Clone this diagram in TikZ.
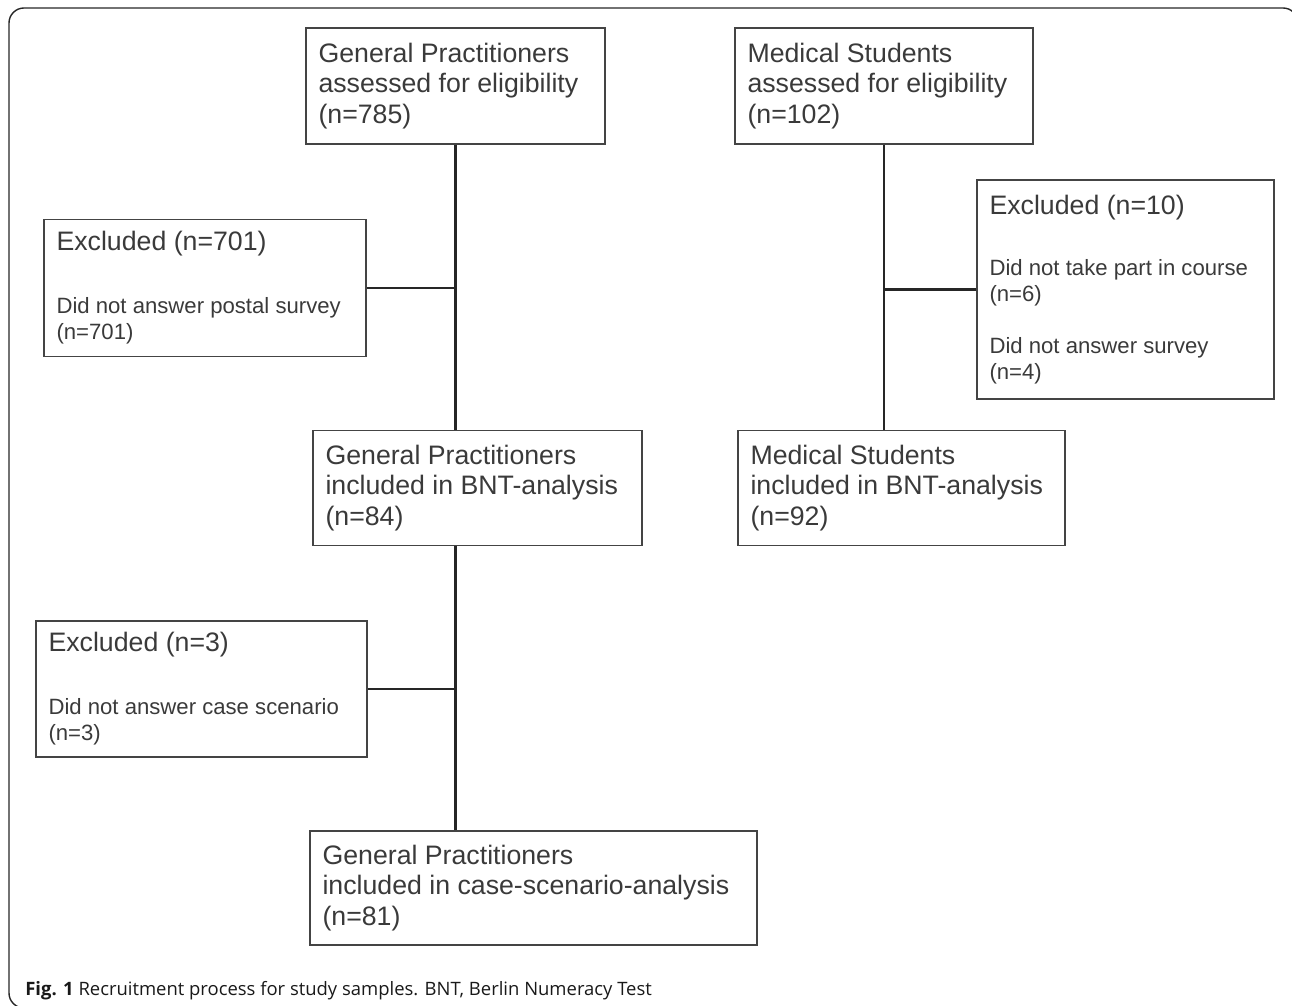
\documentclass[tikz,border=0pt]{standalone}
\usepackage{fontspec}
\usepackage{tikz}
\usepackage{xcolor}
\setmainfont{Liberation Sans}
\newfontfamily\capfamily{Open Sans}
\definecolor{boxgray}{HTML}{444444}
\definecolor{textgray}{HTML}{3A3A3A}
\newcommand{\mainsize}{\fontsize{15.2}{17.3}\selectfont}
\newcommand{\notesize}{\fontsize{12.6}{14.8}\selectfont}
\tikzset{
    flow-box/.style = {draw=boxgray, line width=1.1pt, rectangle, align=flush left, inner xsep=0.25cm, inner ysep=0pt, font=\mainsize, text=textgray},
    flow-link/.style = {draw=black!85, line width=1.2pt},
    frame-line/.style = {draw=black!85, line width=0.8pt, rounded corners=0.3cm},
}

\begin{document}
\begin{tikzpicture}[x=0.02cm, y=-0.02cm]
\useasboundingbox (0,0) rectangle (1292,1006);
\draw[frame-line] (24,1008) -- (9,1008) -- (9,8) -- (1298,8) -- (1298,40);

\node[flow-box, text width=5.48cm, minimum height=2.32cm] (gp-all) at (455.5,86) {General Practitioners\\assessed for eligibility\\(n=785)};
\node[flow-box, text width=5.46cm, minimum height=2.32cm] (ms-all) at (884,86) {Medical Students\\assessed for eligibility\\(n=102)};
\node[flow-box, text width=5.94cm, minimum height=2.74cm] (gp-excl) at (205,288) {Excluded (n=701)\\[21pt]\notesize Did not answer postal survey\\(n=701)\par};
\node[flow-box, text width=5.44cm, minimum height=4.38cm] (ms-excl) at (1125.5,289.5) {Excluded (n=10)\\[20pt]\notesize Did not take part in course\\(n=6)\\[15pt]Did not answer survey\\(n=4)\par};
\node[flow-box, text width=6.08cm, minimum height=2.3cm] (gp-bnt) at (477.5,488) {General Practitioners\\included in BNT-analysis\\(n=84)};
\node[flow-box, text width=6.04cm, minimum height=2.3cm] (ms-bnt) at (901.5,488) {Medical Students\\included in BNT-analysis\\(n=92)};
\node[flow-box, text width=6.12cm, minimum height=2.72cm] (gp-case-excl) at (201.5,689) {Excluded (n=3)\\[21pt]\notesize Did not answer case scenario\\(n=3)\par};
\node[flow-box, text width=8.44cm, minimum height=2.28cm] (gp-case) at (533.5,888) {General Practitioners\\included in case-scenario-analysis\\(n=81)};

\draw[flow-link] (gp-all.south) -- (gp-all.south |- gp-bnt.north);
\draw[flow-link] (gp-excl.east) -- (gp-excl.east -| gp-all.south);
\draw[flow-link] (ms-all.south) -- (ms-all.south |- ms-bnt.north);
\draw[flow-link] (ms-excl.west) -- (ms-excl.west -| ms-all.south);
\draw[flow-link] (gp-bnt.south -| gp-all.south) -- (gp-case.north -| gp-all.south);
\draw[flow-link] (gp-case-excl.east) -- (gp-case-excl.east -| gp-all.south);

\node[anchor=base west, font=\capfamily\fontsize{10.5}{12}\selectfont, text=black!90, inner sep=0pt] (caption) at (25,995) {\textbf{Fig. 1} Recruitment process for study samples. BNT, Berlin Numeracy Test};
\end{tikzpicture}
\end{document}
